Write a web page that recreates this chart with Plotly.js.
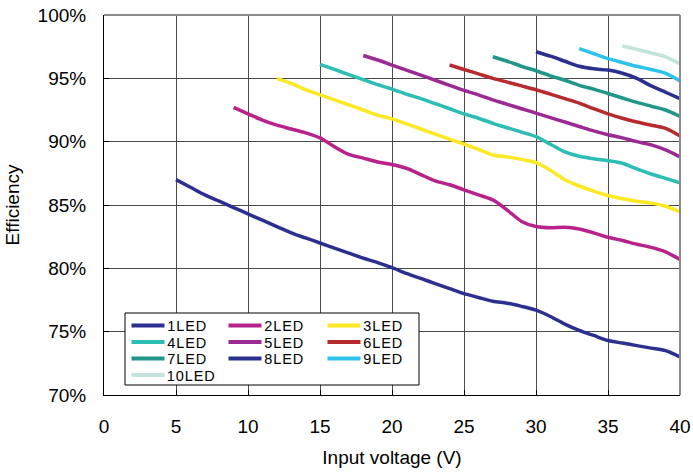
<!DOCTYPE html>
<html>
<head>
<meta charset="utf-8">
<script src="https://cdn.plot.ly/plotly-3.0.1.min.js"></script>
<style>
html,body{margin:0;padding:0;background:#fff;}
#chart{width:693px;height:472px;}
#chart .annotation-text{letter-spacing:0.9px;}
</style>
</head>
<body>
<div id="chart"></div>
<script>
// ---- data (efficiency in %, input voltage in V) ----
var seriesNames = ["1LED","2LED","3LED","4LED","5LED","6LED","7LED","8LED","9LED","10LED"];
var seriesColors = ["#2B3090","#B8228B","#FCE823","#2CBDB4","#9B2A93","#B72A2E","#23968A","#2B3090","#2EC3EB","#C3E4DD"];

var v1 = [5,6,7,8,9,10,11,12,13,14,15,16,17,18,19,20,21,22,23,24,25,26,27,28,29,30,31,32,33,34,35,36,37,38,39,40];
var e1 = [87.0,86.4,85.8,85.3,84.8,84.3,83.8,83.3,82.8,82.4,82.0,81.6,81.2,80.8,80.45,80.05,79.6,79.2,78.8,78.4,78.0,77.7,77.4,77.25,77.0,76.7,76.2,75.6,75.1,74.7,74.3,74.1,73.9,73.7,73.5,73.0];

var v2 = [9,10,11,12,13,14,15,16,17,18,19,20,21,22,23,24,25,26,27,28,29,30,31,32,33,34,35,36,37,38,39,40];
var e2 = [92.7,92.2,91.7,91.3,91.0,90.7,90.3,89.6,89.0,88.7,88.4,88.2,87.9,87.4,86.9,86.6,86.2,85.8,85.4,84.6,83.7,83.3,83.2,83.25,83.1,82.8,82.45,82.2,81.9,81.65,81.3,80.7];

var v3 = [12,13,14,15,16,17,18,19,20,21,22,23,24,25,26,27,28,29,30,31,32,33,34,35,36,37,38,39,40];
var e3 = [95.0,94.6,94.1,93.7,93.3,92.9,92.5,92.1,91.8,91.4,91.0,90.6,90.2,89.8,89.4,88.95,88.8,88.6,88.35,87.75,87.0,86.5,86.1,85.75,85.5,85.3,85.15,84.9,84.45];

var v4 = [15,16,17,18,19,20,21,22,23,24,25,26,27,28,29,30,31,32,33,34,35,36,37,38,39,40];
var e4 = [96.1,95.7,95.3,94.9,94.5,94.15,93.75,93.4,93.0,92.6,92.2,91.85,91.45,91.1,90.75,90.4,89.8,89.2,88.85,88.65,88.5,88.3,87.85,87.45,87.1,86.75];

var v5 = [18,19,20,21,22,23,24,25,26,27,28,29,30,31,32,33,34,35,36,37,38,39,40];
var e5 = [96.8,96.45,96.05,95.65,95.25,94.85,94.45,94.05,93.7,93.3,92.95,92.6,92.25,91.9,91.55,91.2,90.85,90.55,90.3,90.0,89.75,89.35,88.8];

var v6 = [24,25,26,27,28,29,30,31,32,33,34,35,36,37,38,39,40];
var e6 = [96.05,95.7,95.35,95.0,94.7,94.4,94.1,93.75,93.4,93.05,92.6,92.2,91.85,91.55,91.3,91.05,90.45];

var v7 = [27,28,29,30,31,32,33,34,35,36,37,38,39,40];
var e7 = [96.7,96.35,95.95,95.6,95.2,94.85,94.45,94.15,93.8,93.45,93.1,92.8,92.5,92.0];

var v8 = [30,31,32,33,34,35,36,37,38,39,40];
var e8 = [97.1,96.75,96.35,95.95,95.75,95.65,95.4,95.0,94.4,93.9,93.4];

var v9 = [33,34,35,36,37,38,39,40];
var e9 = [97.35,96.95,96.55,96.25,95.95,95.7,95.4,94.8];

var v10 = [36,37,38,39,40];
var e10 = [97.55,97.3,97.0,96.7,96.15];

var xTickVals = [0,5,10,15,20,25,30,35,40];
var yTickVals = [70,75,80,85,90,95,100];
var yTickText = ["70%","75%","80%","85%","90%","95%","100%"];

// ---- build traces ----
var xs = [v1,v2,v3,v4,v5,v6,v7,v8,v9,v10];
var ys = [e1,e2,e3,e4,e5,e6,e7,e8,e9,e10];
var traces = [];
for (var i = 0; i < seriesNames.length; i++) {
  traces.push({
    type: 'scatter', mode: 'lines', name: seriesNames[i],
    x: xs[i], y: ys[i],
    line: {color: seriesColors[i], width: 3.5, shape: 'spline', smoothing: 0.8},
    showlegend: false, hoverinfo: 'x+y+name'
  });
}

// ---- custom legend (3 columns, row-major) ----
var FONT = '"Liberation Sans", Arial, Helvetica, sans-serif';
var plotL = 104, plotR = 680, plotT = 15, plotB = 395;
function px2x(p){ return (p - plotL) / (plotR - plotL); }
function py2y(p){ return (plotB - p) / (plotB - plotT); }
var shapes = [];
var annotations = [];
shapes.push({type:'rect', xref:'paper', yref:'paper',
  x0: px2x(125), x1: px2x(419), y0: py2y(385), y1: py2y(313),
  line:{color:'#000', width:1}, fillcolor:'#fff', layer:'above'});
var colLine = [131.5, 228.5, 327.5];
var rowY = [325.5, 342, 358.5, 375];
for (var k = 0; k < seriesNames.length; k++) {
  var c = k % 3, r = Math.floor(k / 3);
  shapes.push({type:'line', xref:'paper', yref:'paper',
    x0: px2x(colLine[c]), x1: px2x(colLine[c] + 33), y0: py2y(rowY[r]), y1: py2y(rowY[r]),
    line:{color: seriesColors[k], width: 4}, layer:'above'});
  annotations.push({xref:'paper', yref:'paper', x: px2x(colLine[c] + 36), y: py2y(rowY[r] + 0.5),
    xanchor:'left', yanchor:'middle', text: seriesNames[k], showarrow:false, borderpad: 0,
    font:{family: FONT, size: 14.5, color:'#000'}});
}
// top and right frame (grey)
shapes.push({type:'line', xref:'paper', yref:'paper', x0:0, x1:1, y0:1, y1:1, line:{color:'#8a8a8a', width:2}});
shapes.push({type:'line', xref:'paper', yref:'paper', x0:1, x1:1, y0:0, y1:1, line:{color:'#8a8a8a', width:2}});

var layout = {
  width: 693, height: 472,
  margin: {l: plotL, r: 693 - plotR, t: plotT, b: 472 - plotB, pad: 0},
  paper_bgcolor: '#fff', plot_bgcolor: '#fff',
  font: {family: FONT, size: 19, color: '#000'},
  showlegend: false,
  xaxis: {
    range: [0, 40], tickmode: 'array', tickvals: xTickVals, ticktext: xTickVals.map(String),
    showgrid: true, gridcolor: '#4a4a4a', gridwidth: 1,
    zeroline: false, showline: true, linecolor: '#000', linewidth: 1,
    ticks: 'inside', ticklen: 5, tickcolor: '#000',
    ticklabelstandoff: 14,
    tickfont: {family: FONT, size: 19, color: '#000'},
    title: {text: 'Input voltage (V)', standoff: 14, font: {family: FONT, size: 19, color: '#000'}},
    automargin: false, fixedrange: true
  },
  yaxis: {
    range: [70, 100], tickmode: 'array', tickvals: yTickVals, ticktext: yTickText,
    showgrid: true, gridcolor: '#4a4a4a', gridwidth: 1,
    zeroline: false, showline: true, linecolor: '#000', linewidth: 1,
    ticks: 'inside', ticklen: 5, tickcolor: '#000',
    ticklabelstandoff: 13,
    tickfont: {family: FONT, size: 19, color: '#000'},
    title: {text: 'Efficiency', standoff: 12, font: {family: FONT, size: 19, color: '#000'}},
    automargin: false, fixedrange: true
  },
  shapes: shapes,
  annotations: annotations
};

Plotly.newPlot('chart', traces, layout, {displayModeBar: false, staticPlot: true});
</script>
</body>
</html>
